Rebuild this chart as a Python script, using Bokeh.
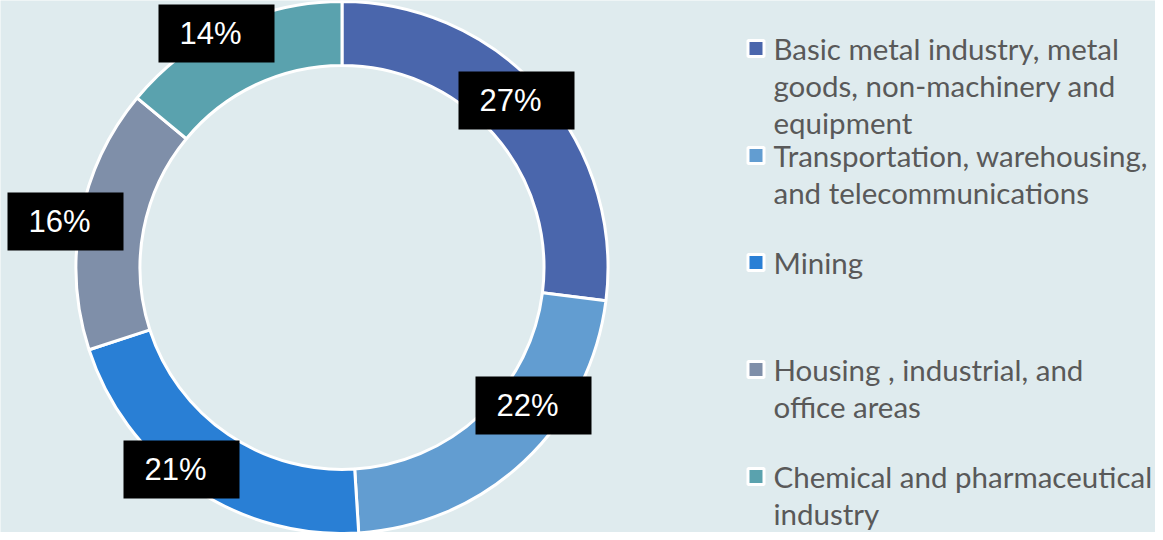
import math
import textwrap
from bokeh.plotting import figure
from bokeh.models import Range1d, ColumnDataSource
from bokeh.core.properties import value
from bokeh.embed import file_html
from bokeh.resources import INLINE

# ---- data ----
categories = [
    "Basic metal industry, metal goods, non-machinery and equipment",
    "Transportation, warehousing, and telecommunications",
    "Mining",
    "Housing , industrial, and office areas",
    "Chemical and pharmaceutical industry",
]
shares = [27, 22, 21, 16, 14]
colors = ["#4A66AC", "#629DD1", "#297FD5", "#7F8FA9", "#5AA2AE"]

# ---- layout (reference pixel coords, y downward) ----
W, H = 1155, 532
BG = "#DFEBEE"
cx, cy = 341.5, 267
r_in, r_out = 202, 266
label_boxes = [(458, 71), (475, 376), (123, 440), (7, 192), (158, 4)]  # top-left
box_w, box_h = 116, 58
legend_x_sq = 755.5
legend_x_txt = 773
legend_y0 = 48
legend_step = 107
line_step = 37


def Y(ref_y):
    return 540 - ref_y


p = figure(width=W, height=H, output_backend="svg", toolbar_location=None,
           x_range=Range1d(0, W), y_range=Range1d(540 - H, 540),
           min_border=0, background_fill_color=BG, border_fill_color=BG)
p.axis.visible = False
p.grid.visible = False
p.outline_line_color = None

total = float(sum(shares))
starts, ends = [], []
cum = 0.0
for s in shares:
    starts.append(math.pi / 2 - 2 * math.pi * cum / total)
    cum += s
    ends.append(math.pi / 2 - 2 * math.pi * cum / total)

src = ColumnDataSource(dict(start=starts, end=ends, color=colors))
p.annular_wedge(x=cx, y=Y(cy), inner_radius=r_in, outer_radius=r_out,
                start_angle="start", end_angle="end", direction="clock",
                fill_color="color", line_color="white", line_width=3, source=src)

# data labels
lx = [bx + box_w / 2 for bx, by in label_boxes]
ly = [Y(by + box_h / 2) for bx, by in label_boxes]
labels = [f"{round(s / total * 100)}%" for s in shares]
p.rect(x=lx, y=ly, width=box_w, height=box_h, fill_color="black", line_color=None)
p.text(x=[v - 6 for v in lx], y=ly, text=labels, text_color="white",
       text_font=value("Liberation Sans"), text_font_size="31px",
       text_align="center", text_baseline="middle")

# legend
for i, (cat, col) in enumerate(zip(categories, colors)):
    ey = legend_y0 + i * legend_step
    p.rect(x=[legend_x_sq], y=[Y(ey)], width=16, height=16, fill_color=col,
           line_color="white", line_width=3)
    lines = textwrap.wrap(cat, width=28)
    p.text(x=[legend_x_txt] * len(lines),
           y=[Y(ey + k * line_step) for k in range(len(lines))],
           text=lines, text_color="#595959", text_font=value("Lato"),
           text_font_size="29.5px", text_align="left", text_baseline="middle")

open("out.html", "w").write(file_html(p, INLINE))
